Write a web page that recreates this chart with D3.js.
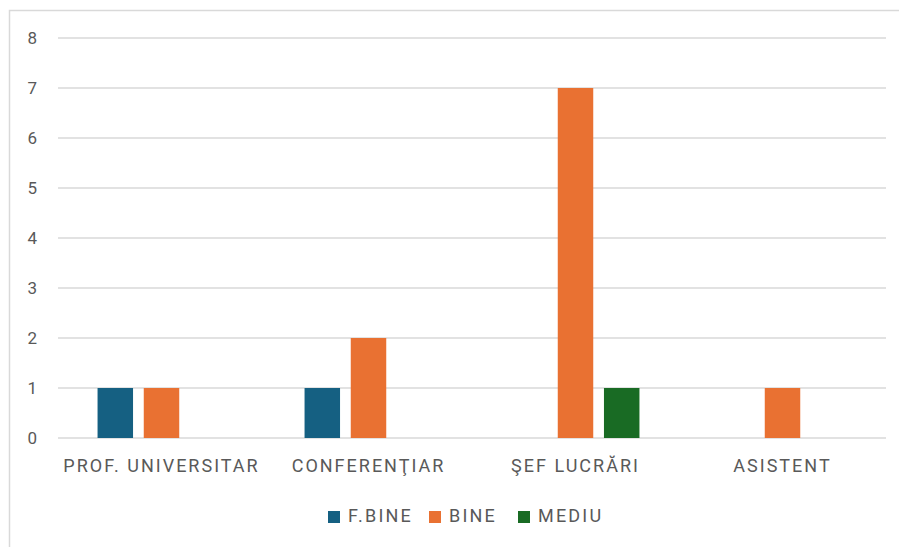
<!DOCTYPE html>
<html>
<head>
<meta charset="utf-8">
<script src="https://cdn.jsdelivr.net/npm/d3@7"></script>
<style>
  body { margin: 0; background: #fff; }
  text { font-family: Roboto, "Liberation Sans", sans-serif; fill: #595959; }
</style>
</head>
<body>
<div id="chart"></div>
<script>
// svg dimensions
let svgWidth = 899,
    svgHeight = 547;

// data
let categories = ['PROF. UNIVERSITAR', 'CONFERENŢIAR', 'ŞEF LUCRĂRI', 'ASISTENT'];
let seriesNames = ['F.BINE', 'BINE', 'MEDIU'];
let fBine = [1, 1, 0, 0];
let bine = [1, 2, 7, 1];
let mediu = [0, 0, 1, 0];
let yTicks = [0, 1, 2, 3, 4, 5, 6, 7, 8];
let colors = ['#156082', '#e97132', '#196b24'];

let seriesValues = [fBine, bine, mediu];

// plot area
let plot = { left: 58, right: 886, top: 38, bottom: 438 };

let svg = d3.select('#chart')
    .append('svg')
    .attr('width', svgWidth)
    .attr('height', svgHeight);

// chart outline
svg.append('rect')
    .attr('x', 9.5)
    .attr('y', 10.5)
    .attr('width', 905)
    .attr('height', 560)
    .attr('fill', 'none')
    .attr('stroke', '#d9d9d9')
    .attr('stroke-width', 1.5);

// scales
let x0 = d3.scaleBand()
    .domain(categories)
    .range([plot.left, plot.right]);

let x1 = d3.scaleBand()
    .domain(seriesNames)
    .range([0, x0.bandwidth()])
    .paddingInner(0.232)
    .paddingOuter(0.856);

let yScale = d3.scaleLinear()
    .domain([0, 8])
    .range([plot.bottom, plot.top]);

// gridlines
svg.append('g')
    .selectAll('line')
    .data(yTicks)
    .join('line')
    .attr('x1', plot.left)
    .attr('x2', plot.right)
    .attr('y1', d => yScale(d))
    .attr('y2', d => yScale(d))
    .attr('stroke', '#d9d9d9')
    .attr('stroke-width', 1.5);

// y labels
svg.append('g')
    .selectAll('text')
    .data(yTicks)
    .join('text')
    .attr('x', 37)
    .attr('y', d => yScale(d) + 6)
    .attr('text-anchor', 'end')
    .attr('font-size', 17)
    .text(d => d);

// bars
seriesNames.forEach((name, si) => {
    svg.append('g')
        .selectAll('rect')
        .data(categories.map((c, i) => ({ cat: c, value: seriesValues[si][i] })))
        .join('rect')
        .attr('x', d => x0(d.cat) + x1(name))
        .attr('y', d => yScale(d.value))
        .attr('width', x1.bandwidth())
        .attr('height', d => yScale(0) - yScale(d.value))
        .attr('fill', colors[si]);
});

// x labels
svg.append('g')
    .selectAll('text')
    .data(categories)
    .join('text')
    .attr('x', d => x0(d) + x0.bandwidth() / 2)
    .attr('y', 472)
    .attr('text-anchor', 'middle')
    .attr('font-size', 18)
    .attr('letter-spacing', 2)
    .text(d => d);

// legend
let legendX = [328, 429, 518];
let legend = svg.append('g');
seriesNames.forEach((name, i) => {
    legend.append('rect')
        .attr('x', legendX[i])
        .attr('y', 511)
        .attr('width', 12)
        .attr('height', 12)
        .attr('fill', colors[i]);
    legend.append('text')
        .attr('x', legendX[i] + 20)
        .attr('y', 522)
        .attr('font-size', 18)
        .attr('letter-spacing', 2.2)
        .text(name);
});
</script>
</body>
</html>
